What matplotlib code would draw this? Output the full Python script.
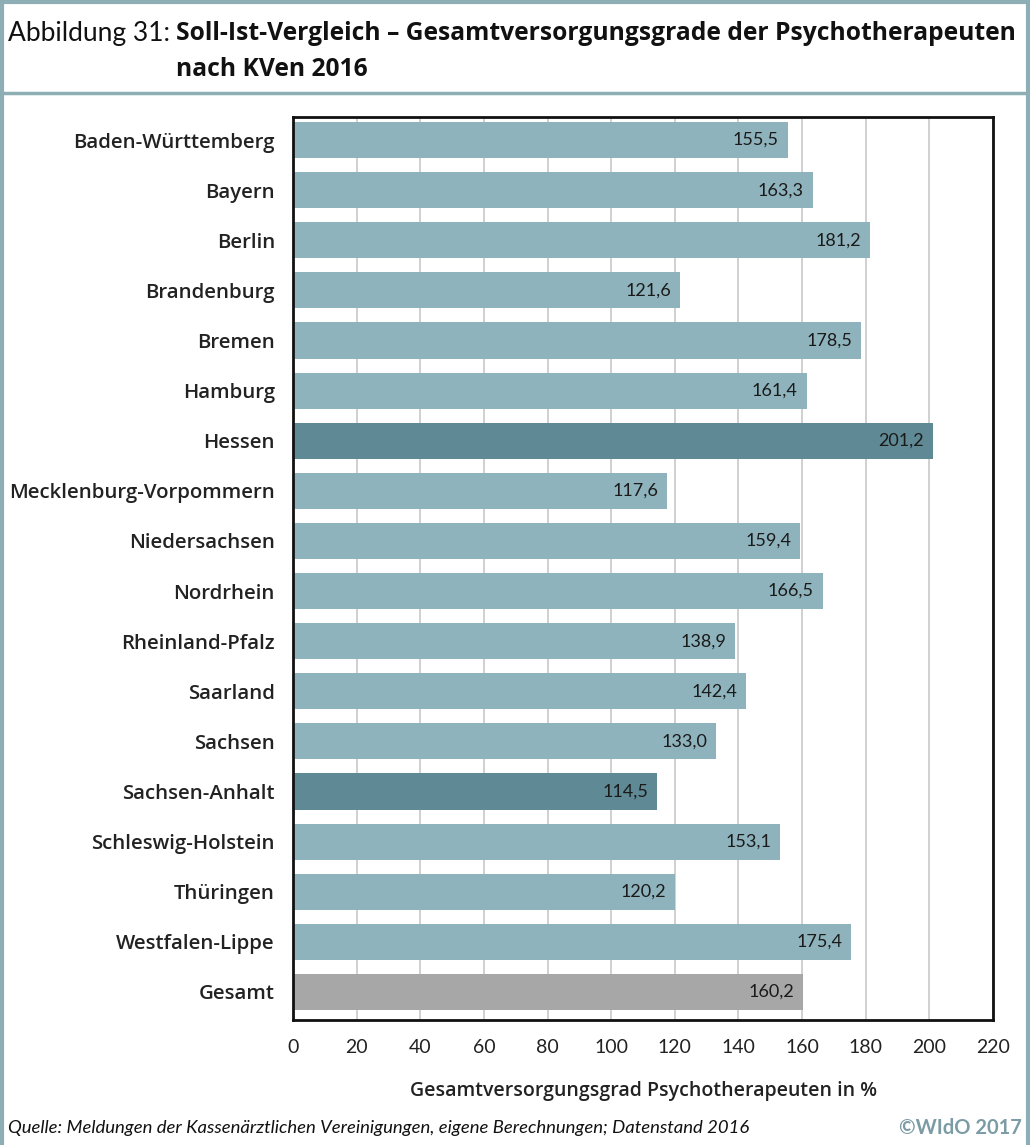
import matplotlib.pyplot as plt
from matplotlib.lines import Line2D

regions = ['Baden-Württemberg', 'Bayern', 'Berlin', 'Brandenburg', 'Bremen', 'Hamburg',
           'Hessen', 'Mecklenburg-Vorpommern', 'Niedersachsen', 'Nordrhein',
           'Rheinland-Pfalz', 'Saarland', 'Sachsen', 'Sachsen-Anhalt',
           'Schleswig-Holstein', 'Thüringen', 'Westfalen-Lippe', 'Gesamt']
values = [155.5, 163.3, 181.2, 121.6, 178.5, 161.4, 201.2, 117.6, 159.4, 166.5,
          138.9, 142.4, 133.0, 114.5, 153.1, 120.2, 175.4, 160.2]
highlight = ['Hessen', 'Sachsen-Anhalt']
ticks = list(range(0, 221, 20))

c_norm = '#8fb3bc'
c_dark = '#5f8995'
c_total = '#a7a7a7'
c_frame = '#8eaeb6'

colors = []
for r in regions:
    if r == 'Gesamt':
        colors.append(c_total)
    elif r in highlight:
        colors.append(c_dark)
    else:
        colors.append(c_norm)

plt.rcParams['font.family'] = ['Lato', 'DejaVu Sans']
open_sans = ['Open Sans', 'DejaVu Sans']

fig = plt.figure(figsize=(10.3, 11.45), dpi=100)
ax = fig.add_axes([0.2845, 0.1092, 0.6796, 0.7886])

y = list(range(len(regions)))
ax.barh(y, values, height=0.72, color=colors, zorder=2)
for yi, v in zip(y, values):
    ax.text(v - 2.8, yi, f'{v:.1f}'.replace('.', ','), ha='right', va='center',
            fontsize=13, color='#1a1a1a', zorder=3)

ax.set_xlim(0, 220)
ax.set_ylim(17.56, -0.46)
ax.set_xticks(ticks)
ax.set_xticklabels([str(t) for t in ticks], fontsize=14, color='#222222')
ax.set_yticks(y)
ax.set_yticklabels(regions, fontsize=14.7, fontweight='semibold', family=open_sans,
                   color='#222222')
ax.tick_params(axis='both', length=0)
ax.tick_params(axis='x', pad=14)
ax.tick_params(axis='y', pad=13)
ax.grid(axis='x', color='#c8c8c8', linewidth=1.2, zorder=0)
ax.set_axisbelow(True)
for s in ax.spines.values():
    s.set_linewidth(2)
    s.set_color('#111111')
ax.set_xlabel('Gesamtversorgungsgrad Psychotherapeuten in %', fontsize=14,
              fontweight='semibold', family=open_sans, color='#222222', labelpad=18)

# frame around the figure
fig.add_artist(Line2D([0.002, 0.998], [0.998, 0.998], color=c_frame, lw=3, transform=fig.transFigure))
fig.add_artist(Line2D([0.002, 0.998], [1 - 93 / 1145, 1 - 93 / 1145], color=c_frame, lw=2.5, transform=fig.transFigure))
fig.add_artist(Line2D([0.002, 0.002], [0, 0.998], color=c_frame, lw=3, transform=fig.transFigure))
fig.add_artist(Line2D([0.998, 0.998], [0, 0.998], color=c_frame, lw=3, transform=fig.transFigure))

fig.text(8 / 1030, 1 - 34 / 1145, 'Abbildung 31:', fontsize=19, ha='left', va='center', color='#111111')
fig.text(176 / 1030, 1 - 34 / 1145, 'Soll-Ist-Vergleich – Gesamtversorgungsgrade der Psychotherapeuten',
         fontsize=17.7, fontweight='bold', family=open_sans,
         ha='left', va='center', color='#111111')
fig.text(176 / 1030, 1 - 70 / 1145, 'nach KVen 2016', fontsize=17.7, fontweight='bold',
         family=open_sans, ha='left', va='center', color='#111111')

fig.text(8 / 1030, 1 - 1128 / 1145,
         'Quelle: Meldungen der Kassenärztlichen Vereinigungen, eigene Berechnungen; Datenstand 2016',
         fontsize=13.3, style='italic', ha='left', va='center', color='#111111')
fig.text(1022 / 1030, 1 - 1128 / 1145, '©WIdO 2017', fontsize=14.5, fontweight='bold',
         ha='right', va='center', color='#7c9ca5')

fig.savefig('out.png', dpi=100)
